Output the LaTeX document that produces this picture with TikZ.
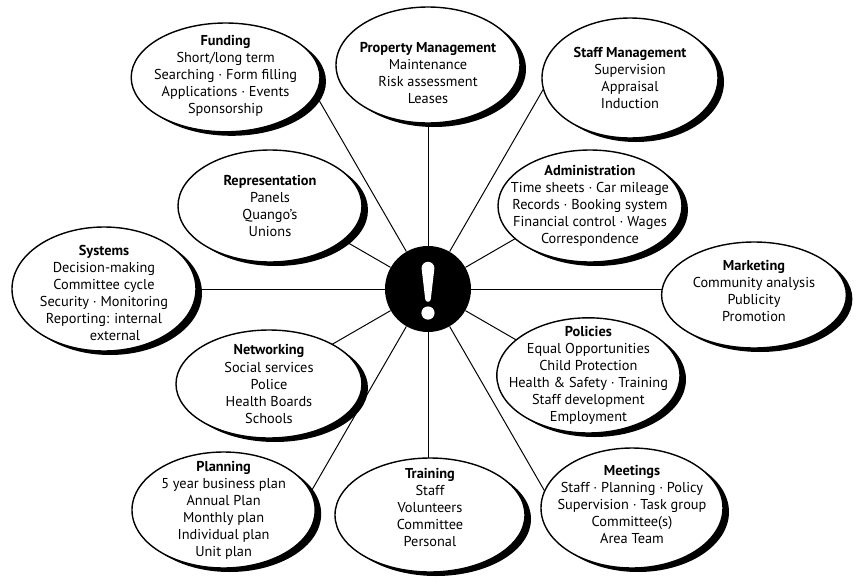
\documentclass[tikz,border=0pt]{standalone}
\usepackage{fontspec}
\setmainfont{PT Sans}
\usepackage{tikz}
\usetikzlibrary{shapes,positioning,backgrounds,shadows}

\tikzset{
  bubble/.style={ellipse, draw, line width=1pt, fill=white, inner sep=0pt,
                 drop shadow={shadow xshift=0.15cm, shadow yshift=-0.1cm,
                              fill=black, opacity=1}},
  topic/.style={align=center, inner sep=0pt,
                font=\fontsize{10.2}{12.1}\selectfont},
  spoke/.style={line width=0.7pt}
}

\begin{document}
\begin{tikzpicture}
  \useasboundingbox (-10.7,-7.425) rectangle (10.825,7.225);

  % Hub
  \node[circle, fill=black, minimum size=2.15cm, inner sep=0pt] (hub) at (0,0) {};
  \fill[white] (-0.16,0.52) arc[start angle=180, end angle=0, radius=0.16]
    -- (0.07,-0.25) arc[start angle=0, end angle=-180, radius=0.07] -- cycle;
  \fill[white] (0,-0.6) circle (0.165);

  % Upper half
  \node[bubble, minimum width=4.72cm, minimum height=2.72cm] (fund) at (-5.06,5.29) {};
  \node[topic] (fund-txt) at ([yshift=0.05cm]fund) {\textbf{Funding}\\Short/long term\\Searching · Form filling\\Applications · Events\\Sponsorship};

  \node[bubble, minimum width=4.6cm, minimum height=2.9cm] (prop) at (0,5.6) {};
  \node[topic] (prop-txt) at ([yshift=-0.2cm]prop) {\textbf{Property Management}\\Maintenance\\Risk assessment\\Leases};

  \node[bubble, minimum width=4.4cm, minimum height=3.0cm] (staff) at (5.05,5.275) {};
  \node[topic] (staff-txt) at (staff) {\textbf{Staff Management}\\Supervision\\Appraisal\\Induction};

  \node[bubble, minimum width=4.6cm, minimum height=2.8cm] (rep) at (-3.95,2.075) {};
  \node[topic] (rep-txt) at (rep) {\textbf{Representation}\\Panels\\Quango's\\Unions};

  \node[bubble, minimum width=4.6cm, minimum height=2.8cm] (admin) at (4.05,2.075) {};
  \node[topic] (admin-txt) at (admin) {\textbf{Administration}\\Time sheets · Car mileage\\Records · Booking system\\Financial control · Wages\\Correspondence};

  % Middle row
  \node[bubble, minimum width=4.6cm, minimum height=3.1cm] (sys) at (-8.1,0) {};
  \node[topic] (sys-txt) at ([yshift=-0.1cm]sys) {\textbf{Systems}\\Decision-making\\Committee cycle\\Security · Monitoring\\Reporting: internal\\\hspace*{0.55cm}external};

  \node[bubble, minimum width=4.62cm, minimum height=2.65cm] (mark) at (8.15,-0.15) {};
  \node[topic] (mark-txt) at ([yshift=0.1cm]mark) {\textbf{Marketing}\\Community analysis\\Publicity\\Promotion};

  % Lower half
  \node[bubble, minimum width=4.65cm, minimum height=2.7cm] (net) at (-3.975,-2.375) {};
  \node[topic] (net-txt) at (net) {\textbf{Networking}\\Social services\\Police\\Health Boards\\Schools};

  \node[bubble, minimum width=4.58cm, minimum height=2.88cm] (pol) at (4.01,-2.16) {};
  \node[topic] (pol-txt) at (pol) {\textbf{Policies}\\Equal Opportunities\\Child Protection\\Health \& Safety · Training\\Staff development\\Employment};

  \node[bubble, minimum width=4.58cm, minimum height=2.9cm] (plan) at (-5.11,-5.525) {};
  \node[topic] (plan-txt) at (plan) {\textbf{Planning}\\5 year business plan\\Annual Plan\\Monthly plan\\Individual plan\\Unit plan};

  \node[bubble, minimum width=4.75cm, minimum height=2.85cm] (train) at (0.05,-5.65) {};
  \node[topic] (train-txt) at ([yshift=0.18cm]train) {\textbf{Training}\\Staff\\Volunteers\\Committee\\Personal};

  \node[bubble, minimum width=4.55cm, minimum height=3.0cm] (meet) at (5.1,-5.475) {};
  \node[topic] (meet-txt) at ([yshift=0.08cm]meet) {\textbf{Meetings}\\Staff · Planning · Policy\\Supervision · Task group\\Committee(s)\\Area Team};

  % Spokes, every 30 degrees, ending under the bubbles
  \begin{scope}[on background layer]
    \foreach \n/\a/\r in {prop/90/4.6, staff/60/6.2, admin/30/3.0, mark/0/6.2,
                          pol/-30/3.0, meet/-60/6.2, train/-90/4.6, plan/-120/6.2,
                          net/-150/3.0, sys/180/6.1, rep/150/2.8, fund/120/6.0}
    {
      \path (hub.center) ++(\a:\r) coordinate (\n-tip);
      \draw[spoke] (hub) -- (\n-tip);
    }
  \end{scope}
\end{tikzpicture}
\end{document}
